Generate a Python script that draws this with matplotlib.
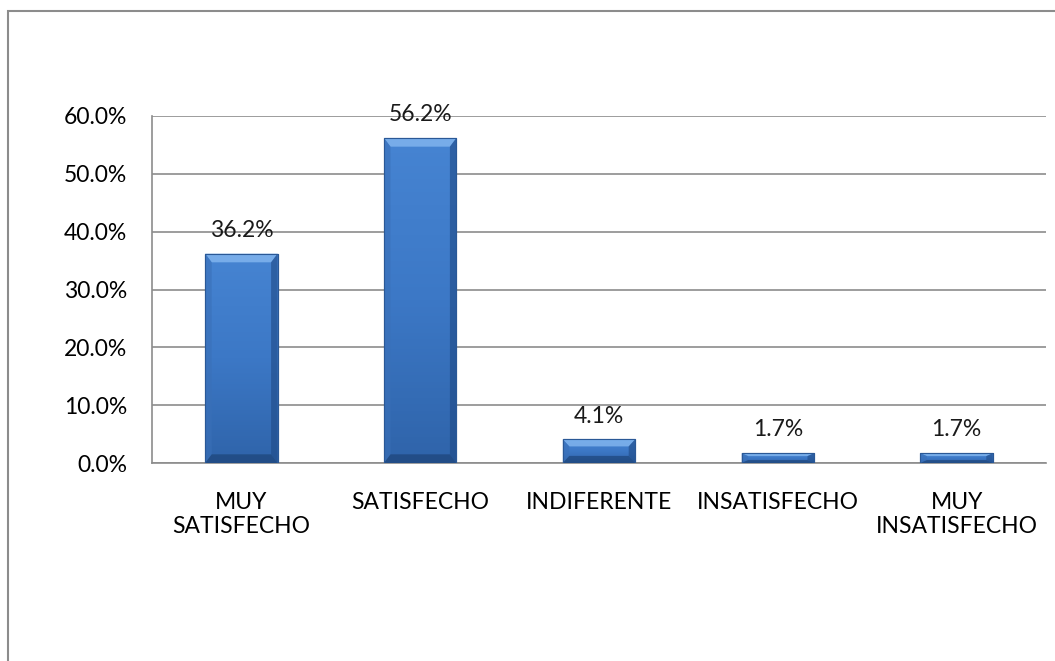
import matplotlib
matplotlib.use("Agg")
import matplotlib.pyplot as plt
import numpy as np
from matplotlib.patches import Rectangle, Polygon
from matplotlib.ticker import FuncFormatter, MultipleLocator
from matplotlib.colors import LinearSegmentedColormap

categories = ["MUY\nSATISFECHO", "SATISFECHO", "INDIFERENTE", "INSATISFECHO", "MUY\nINSATISFECHO"]
values = [36.2, 56.2, 4.1, 1.7, 1.7]
labels = ["36.2%", "56.2%", "4.1%", "1.7%", "1.7%"]

plt.rcParams['font.family'] = ['Lato', 'DejaVu Sans']
FS = 16.5

fig = plt.figure(figsize=(10.55, 6.61), dpi=100)
fig.patches.append(Rectangle((8/1055, -0.1), 1.2, 1 - 11/661 + 0.1, transform=fig.transFigure,
                             fill=False, edgecolor='#8c8c8c', linewidth=1.5))
ax = fig.add_axes([152/1055, 1 - 463/661, 894/1055, (463 - 116)/661])

x = np.arange(len(categories))
bars = ax.bar(x, values, width=0.405, color='#3d7cc9', edgecolor='#2a5896', linewidth=0.8, zorder=3)

grad = np.linspace(0, 1, 100).reshape(-1, 1)
cmap = LinearSegmentedColormap.from_list('b', ['#2f64aa', '#3c78c6', '#4684d2'])
for b in bars:
    x0, y0, w, h = b.get_x(), b.get_y(), b.get_width(), b.get_height()
    im = ax.imshow(grad, extent=(x0, x0 + w, y0, y0 + h), aspect='auto', cmap=cmap,
                   origin='lower', zorder=3.5)
    im.set_clip_path(b)
    bev_x = w * 0.09
    bev_y = min(h * 0.3, 1.5)
    top = Polygon([(x0, y0 + h), (x0 + w, y0 + h), (x0 + w - bev_x, y0 + h - bev_y), (x0 + bev_x, y0 + h - bev_y)],
                  closed=True, facecolor='#80b4ee', edgecolor='none', alpha=0.85, zorder=3.6)
    left = Polygon([(x0, y0 + h), (x0 + bev_x, y0 + h - bev_y), (x0 + bev_x, y0 + bev_y), (x0, y0)],
                   closed=True, facecolor='#3a70b8', edgecolor='none', alpha=0.6, zorder=3.6)
    right = Polygon([(x0 + w, y0 + h), (x0 + w - bev_x, y0 + h - bev_y), (x0 + w - bev_x, y0 + bev_y), (x0 + w, y0)],
                    closed=True, facecolor='#1f4a86', edgecolor='none', alpha=0.6, zorder=3.6)
    bot = Polygon([(x0, y0), (x0 + w, y0), (x0 + w - bev_x, y0 + bev_y), (x0 + bev_x, y0 + bev_y)],
                  closed=True, facecolor='#1a3f70', edgecolor='none', alpha=0.6, zorder=3.6)
    for p in (top, left, right, bot):
        ax.add_patch(p)
    ax.add_patch(Rectangle((x0, y0), w, h, fill=False, edgecolor='#2a5896', linewidth=0.8, zorder=3.7))

for xi, v, lab in zip(x, values, labels):
    ax.text(xi, v + 2.2, lab, ha='center', va='bottom', fontsize=FS, color='#1a1a1a', zorder=5)

ax.set_xlim(-0.5, len(categories) - 0.5)
ax.set_ylim(0, 60)
ax.yaxis.set_major_locator(MultipleLocator(10))
ax.yaxis.set_major_formatter(FuncFormatter(lambda v, p: f"{v:.1f}%"))
ax.set_xticks(x)
ax.set_xticklabels(categories, fontsize=FS, linespacing=1.15, va='top')
ax.tick_params(axis='y', labelsize=FS, length=0, pad=18)
ax.tick_params(axis='x', length=0, pad=21)
ax.grid(axis='y', color='#8c8c8c', linewidth=1.2, zorder=0)
ax.set_axisbelow(True)
for s in ['top', 'right']:
    ax.spines[s].set_visible(False)
for s in ['left', 'bottom']:
    ax.spines[s].set_color('#8c8c8c')
    ax.spines[s].set_linewidth(1.2)

fig.savefig('out.png', dpi=100)
